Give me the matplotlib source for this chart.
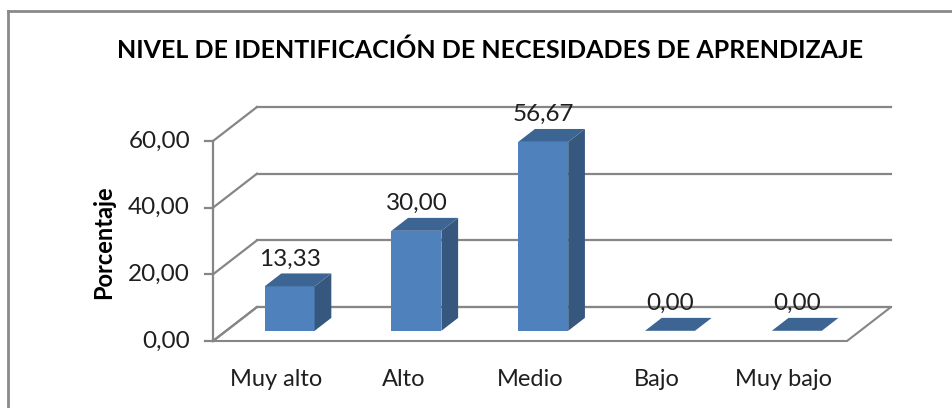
import matplotlib
matplotlib.use("Agg")
import matplotlib.pyplot as plt
from matplotlib.patches import Polygon, Rectangle
from matplotlib.lines import Line2D

# Data
categories = ["Muy alto", "Alto", "Medio", "Bajo", "Muy bajo"]
values = [13.33, 30.00, 56.67, 0.00, 0.00]
y_ticks = [0, 20, 40, 60]
title = "NIVEL DE IDENTIFICACIÓN DE NECESIDADES DE APRENDIZAJE"
y_label = "Porcentaje"

# Style
FONT = "Lato"
GRID = "#868686"
FRONT = "#4f81bd"
TOP = "#3d6594"
SIDE = "#36587f"
TEXT = "#1f1f1f"

W, H, DPI = 953, 408, 100
fig = plt.figure(figsize=(W / DPI, H / DPI), dpi=DPI)
fig.patch.set_facecolor("white")

# Plot area (front plane of the floor)
left_px, right_px = 213, 847
zero_px, top_px = 341, 141
ax = fig.add_axes([left_px / W, (H - zero_px) / H,
                   (right_px - left_px) / W, (zero_px - top_px) / H])
ax.set_xlim(-0.5, len(categories) - 0.5)
ax.set_ylim(0, 60)
ax.axis("off")

# Oblique depth vector, in data units (category units, value units)
px_per_cat = (right_px - left_px) / len(categories)
px_per_val = (zero_px - top_px) / 60.0
DX = 44 / px_per_cat
DY = 34 / px_per_val
F0, F1 = 0.30, 0.68      # bar front / back depth fraction
BAR_W = 50 / px_per_cat  # bar front face width

x0, x1 = -0.5, len(categories) - 0.5

# Floor
floor = Polygon([(x0, 0), (x1, 0), (x1 + DX, DY), (x0 + DX, DY)],
                closed=True, facecolor="white", edgecolor=GRID, lw=1.5,
                clip_on=False, zorder=1)
ax.add_patch(floor)

# Back wall gridlines and left wall diagonals
for v in y_ticks:
    ax.add_line(Line2D([x0 + DX, x1 + DX], [v + DY, v + DY], color=GRID,
                       lw=1.6, clip_on=False, zorder=2))
    ax.add_line(Line2D([x0, x0 + DX], [v, v + DY], color=GRID,
                       lw=1.6, clip_on=False, zorder=2))

# Vertical value axis with tick marks and labels
ax.add_line(Line2D([x0, x0], [0, 60], color=GRID, lw=1.6,
                   clip_on=False, zorder=3))
tick_len = 8 / px_per_cat
for v in y_ticks:
    ax.add_line(Line2D([x0 - tick_len, x0], [v, v], color=GRID, lw=1.6,
                       clip_on=False, zorder=3))
    ax.text(x0 - 23 / px_per_cat, v, f"{v:.2f}".replace(".", ","),
            ha="right", va="center", fontsize=17.5, family=FONT,
            color=TEXT)

# Bars
for i, v in enumerate(values):
    cx = i + F0 * DX
    xl, xr = cx - BAR_W / 2, cx + BAR_W / 2
    yb = F0 * DY
    yt = yb + v
    bdx, bdy = (F1 - F0) * DX, (F1 - F0) * DY
    if v > 0:
        ax.add_patch(Rectangle((xl, yb), BAR_W, v, facecolor=FRONT,
                               edgecolor="none", clip_on=False, zorder=5))
        ax.add_patch(Polygon([(xr, yb), (xr + bdx, yb + bdy),
                              (xr + bdx, yt + bdy), (xr, yt)],
                             closed=True, facecolor=SIDE, edgecolor="none",
                             clip_on=False, zorder=5))
    ax.add_patch(Polygon([(xl, yt), (xr, yt), (xr + bdx, yt + bdy),
                          (xl + bdx, yt + bdy)],
                         closed=True, facecolor=TOP, edgecolor="none",
                         clip_on=False, zorder=5))
    ax.annotate(f"{v:.2f}".replace(".", ","), xy=(cx, yt + bdy),
                xytext=(0, 5.5), textcoords="offset points",
                ha="center", va="baseline", fontsize=17.5, family=FONT,
                color=TEXT, zorder=6, annotation_clip=False)

# Category labels
for i, c in enumerate(categories):
    ax.annotate(c, xy=(i, 0), xytext=(0, -27.5), textcoords="offset points",
                ha="center", va="center", fontsize=17, family=FONT,
                color=TEXT, annotation_clip=False)

# Axis title
fig.text(104 / W, 1 - 242 / H, y_label, rotation=90, ha="center",
         va="center", fontsize=17, fontweight="bold", family=FONT,
         color="black")

# Chart title
fig.text(490 / W, 1 - 50 / H, title, ha="center", va="center",
         fontsize=18, fontweight="bold", family=FONT, color="black")

# Chart area border (top and left edges)
fig.add_artist(Line2D([8 / W, 1.0], [1 - 11 / H, 1 - 11 / H],
                      transform=fig.transFigure, color="#8a8a8a", lw=2))
fig.add_artist(Line2D([8 / W, 8 / W], [0, 1 - 11 / H],
                      transform=fig.transFigure, color="#8a8a8a", lw=2))

fig.savefig("out.png", dpi=DPI, facecolor="white")
